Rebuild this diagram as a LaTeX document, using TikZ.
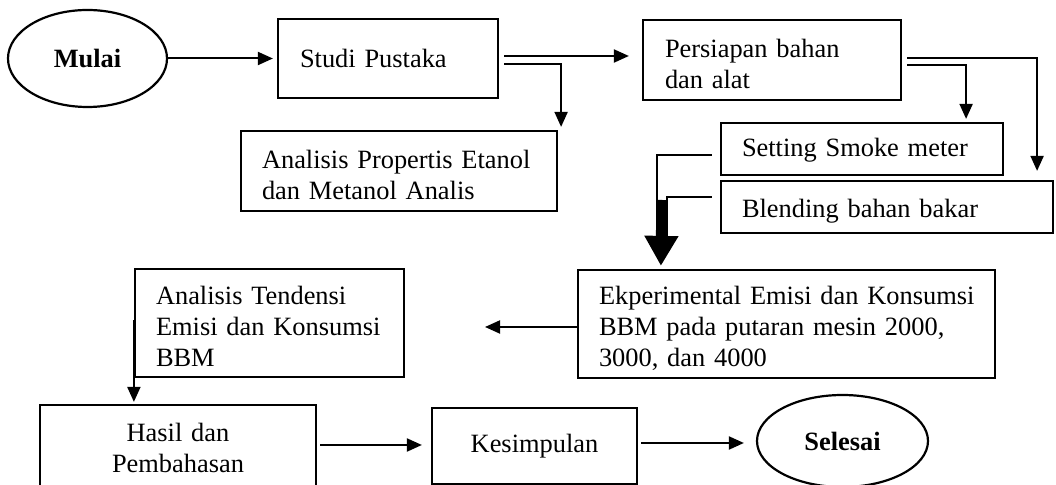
\documentclass[tikz,border=0pt]{standalone}
\usepackage{fontspec}
\setmainfont{Liberation Serif}
\usetikzlibrary{arrows.meta,shapes.geometric}
\newcommand\tstrut[1]{\rule{0pt}{#1pt}}
\begin{document}
\begin{tikzpicture}[x=0.5pt,y=-0.5pt,
  every node/.style={font=\fontsize{13.2}{15.5}\selectfont},
  box/.style={draw,line width=1.1pt,inner sep=0pt,align=left},
  term/.style={draw,ellipse,line width=1.1pt,inner sep=0pt,font=\fontsize{13.2}{15.5}\selectfont\bfseries},
  con/.style={line width=1pt},
  arr/.style={con,-{Triangle[length=7.5pt,width=6.5pt]}},
  bigarr/.style={line width=5.5pt,-{Triangle[length=15pt,width=16pt]}},
]
\useasboundingbox (0,0) rectangle (1056,485);
\clip (0,0) rectangle (1056,485);

% nodes
\node[term,minimum width=79.5pt,minimum height=48.5pt] (mulai) at (87.5,58.5) {Mulai};
\node[box,minimum width=110pt,minimum height=39.5pt,text width=88pt] (studi) at (388,58.5) {Studi Pustaka};
\node[box,minimum width=158pt,minimum height=40pt,text width=137pt] (ap) at (399,171) {\tstrut{13}\mbox{Analisis Propertis Etanol}\\\mbox{dan Metanol Analis}};
\node[box,minimum width=129pt,minimum height=40pt,text width=107pt] (ps) at (772,60) {\tstrut{13}\mbox{Persiapan bahan}\\dan alat};
\node[box,minimum width=141pt,minimum height=26pt,text width=120pt] (set) at (862,149) {\tstrut{10}\mbox{Setting Smoke meter}};
\node[box,minimum width=166pt,minimum height=26pt,text width=145pt] (bl) at (887,207) {\tstrut{13}\mbox{Blending bahan bakar}};
\node[box,minimum width=208.5pt,minimum height=54pt,text width=187.5pt] (ek) at (786.5,324) {\tstrut{14}\mbox{Ekperimental Emisi dan Konsumsi}\\\mbox{BBM pada putaran mesin 2000,}\\\mbox{3000, dan 4000}};
\node[box,minimum width=134.5pt,minimum height=54pt,text width=113.5pt] (at) at (269.5,323) {\tstrut{13}\mbox{Analisis Tendensi}\\\mbox{Emisi dan Konsumsi}\\BBM};
\node[box,align=center,minimum width=138pt,minimum height=42.5pt,text width=130pt] (hs) at (178,447.5) {Hasil dan\\Pembahasan};
\node[box,align=center,minimum width=102.5pt,minimum height=38pt] (ks) at (534.5,446) {Kesimpulan};
\node[term,minimum width=85.5pt,minimum height=46pt] (sel) at (842.5,441) {Selesai};

% connectors
\draw[arr] (mulai.east) -- ([shift={(-4,0)}]studi.west);
\draw[arr] ([shift={(5,-2.5)}]studi.east) -- ([shift={(-13,-4)}]ps.west);
\draw[arr] ([shift={(5,5.5)}]studi.east) -| ([shift={(3,-3)}]ap.north east);
\draw[arr] ([shift={(5,-2)}]ps.east) -| ([shift={(-17,-9)}]bl.north east);
\draw[arr] ([shift={(5,5)}]ps.east) -| ([shift={(-38,-3)}]set.north east);

% merging thick arrow into Ekperimental
\coordinate (m1) at (657,237);
\coordinate (m2) at (667,237);
\coordinate (mtop) at (662,200);
\coordinate (tip) at ([shift={(84,-3)}]ek.north west);
\draw[con] ([shift={(-8,6)}]set.west) -| (m1);
\draw[con] ([shift={(-8,-10)}]bl.west) -| (m2);
\draw[bigarr] (mtop) -- (tip);

\coordinate (atin) at (485,327);
\draw[arr] ([shift={(0,3)}]ek.west) -- (atin);
\draw[arr] ([shift={(0,-3)}]at.west) -- ([shift={(95,-2)}]hs.north west);
\draw[arr] ([shift={(3,-2.5)}]hs.east) -- ([shift={(-9,-1)}]ks.west);
\draw[arr] ([shift={(3,-3)}]ks.east) -- ([shift={(-12,2)}]sel.west);
\end{tikzpicture}
\end{document}
